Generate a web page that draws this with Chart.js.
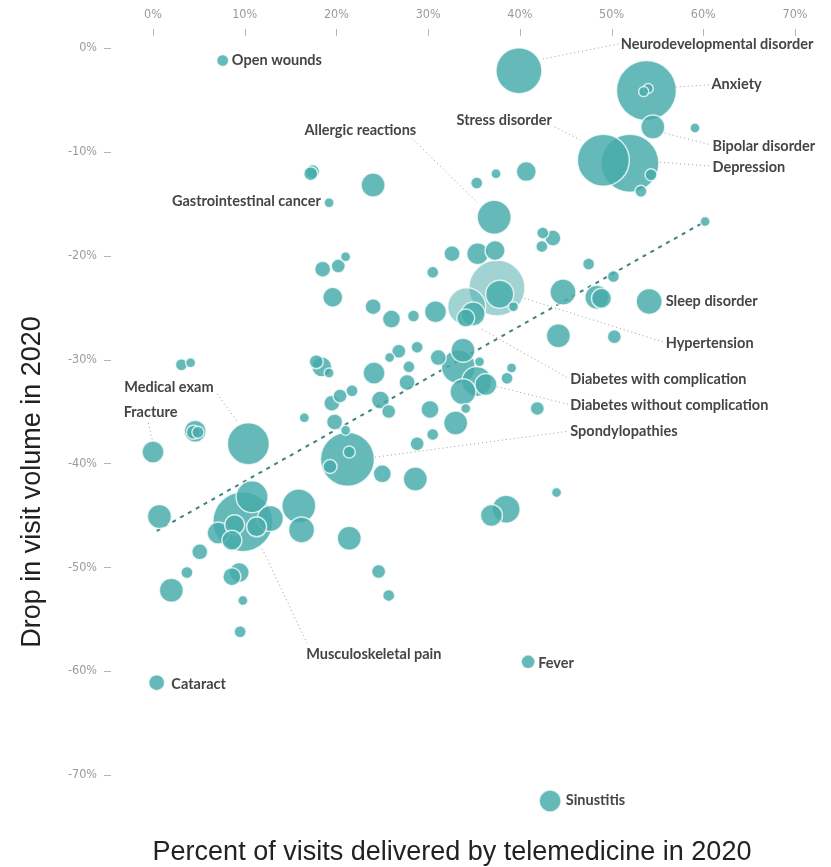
<!DOCTYPE html>
<html>
<head>
<meta charset="utf-8">
<script src="https://cdn.jsdelivr.net/npm/chart.js@4/dist/chart.umd.min.js"></script>
<style>
    body { margin: 0; background: #fff; }
    #chart-div { width: 831px; height: 867px; position: relative; }
</style>
</head>
<body>
<div id="chart-div"><canvas id="telemedicine-chart"></canvas></div>
<script>
// percent of visits by telemedicine (x), drop in visit volume (y), bubble size
const xValues = [
    7.6, 39.9, 53.8, 54.0, 53.5, 54.5, 59.1, 49.1, 52.0, 54.3, 53.2, 60.2, 40.7, 37.4, 35.3, 37.2,
    42.5, 43.6, 42.4, 32.6, 35.4, 37.3, 37.8, 39.3, 47.5, 50.2, 44.7, 48.4, 48.9, 54.1, 44.2, 50.3,
    34.9, 34.1, 30.8, 28.4, 26.0, 24.0, 19.6, 21.0, 20.2, 18.5, 30.5, 17.4, 17.2, 24.0, 19.2, 17.8,
    18.4, 19.2, 24.1, 25.8, 26.8, 28.8, 27.9, 27.7, 21.7, 20.4, 19.5, 24.8, 25.7, 16.5, 19.8, 21.0,
    30.2, 30.5, 28.8, 33.0, 34.1, 21.2, 21.4, 19.3, 25.0, 28.6, 31.1, 33.8, 33.3, 33.8, 35.3, 36.3,
    35.6, 38.6, 39.1, 41.9, 44.0, 38.5, 36.9, 40.9, 43.3, 0.4, 0.7, 9.8, 10.8, 15.9, 16.2, 21.4,
    7.1, 8.9, 8.6, 12.8, 11.3, 5.1, 3.7, 2.0, 8.6, 9.4, 9.8, 9.5, 24.6, 25.7, 0.0, 10.4, 4.6, 4.4,
    4.9, 3.1, 4.1
];
const yValues = [
    -1.2, -2.2, -4.1, -3.9, -4.2, -7.6, -7.7, -10.8, -11.1, -12.2, -13.8, -16.7, -11.9, -12.1, -13.0, -16.3,
    -17.8, -18.3, -19.1, -19.8, -19.8, -19.5, -23.7, -24.9, -20.8, -22.0, -23.5, -24.0, -24.1, -24.4, -27.7, -27.8,
    -25.6, -26.0, -25.4, -25.8, -26.1, -24.9, -24.0, -20.1, -21.0, -21.3, -21.6, -11.9, -12.1, -13.2, -14.9, -30.2,
    -30.7, -31.3, -31.3, -29.8, -29.2, -28.8, -30.7, -32.2, -33.0, -33.5, -34.2, -33.9, -35.0, -35.6, -36.0, -36.8,
    -34.8, -37.2, -38.1, -36.1, -34.7, -39.6, -38.9, -40.3, -41.0, -41.5, -29.8, -29.1, -30.7, -33.1, -32.1, -32.4,
    -30.2, -31.8, -30.8, -34.7, -42.8, -44.4, -45.0, -59.1, -72.5, -61.1, -45.1, -45.6, -43.2, -44.1, -46.4, -47.2,
    -46.7, -45.9, -47.4, -45.3, -46.1, -48.5, -50.5, -52.2, -50.9, -50.5, -53.2, -56.2, -50.4, -52.7, -38.9, -38.1, -36.9, -37.0,
    -37.0, -30.5, -30.3
];
const sizes = [
    6, 23, 30, 5, 5, 12, 5, 26, 29, 6, 6, 5, 10, 5, 6, 17,
    6, 8, 6, 8, 11, 10, 14, 5, 6, 6, 13, 12, 10, 13, 12, 7,
    12, 9, 11, 6, 9, 8, 10, 5, 7, 8, 6, 7, 7, 12, 5, 7,
    10, 5, 11, 5, 7, 6, 6, 8, 6, 7, 8, 9, 7, 5, 8, 5,
    9, 6, 7, 12, 5, 27, 6, 7, 9, 12, 8, 12, 17, 13, 15, 11,
    5, 6, 5, 7, 5, 14, 11, 7, 11, 8, 12, 30, 16, 17, 13, 12,
    11, 10, 10, 13, 10, 8, 6, 12, 9, 10, 5, 6, 7, 6, 11, 21, 11, 7,
    6, 6, 5
];

// the two paler, more transparent bubbles
const paleX = [37.5, 34.2];
const paleY = [-23.1, -24.9];
const paleSizes = [28, 19];

// dashed trend line
const trendX = [0.4, 60.2];
const trendY = [-46.5, -16.7];

const xTicks = [0, 10, 20, 30, 40, 50, 60, 70];
const yTicks = [0, -10, -20, -30, -40, -50, -60, -70];

// label text, where it sits, and an optional dotted leader (all in data units)
const callouts = [
    { text: 'Open wounds', x: 8.6, y: -1.15, align: 'left' },
    { text: 'Neurodevelopmental disorder', x: 51.0, y: 0.4, align: 'left', line: [42.5, -1.06, 50.8, 0.4] },
    { text: 'Anxiety', x: 60.9, y: -3.46, align: 'left', line: [57.0, -3.75, 60.6, -3.56] },
    { text: 'Stress disorder', x: 43.5, y: -7.0, align: 'right', line: [43.8, -7.6, 46.6, -8.85] },
    { text: 'Bipolar disorder', x: 61.0, y: -9.43, align: 'left', line: [55.8, -8.2, 60.7, -9.3] },
    { text: 'Depression', x: 61.0, y: -11.45, align: 'left', line: [55.3, -11.0, 60.7, -11.36] },
    { text: 'Allergic reactions', x: 28.7, y: -7.9, align: 'right', line: [28.2, -8.66, 35.4, -14.9] },
    { text: 'Gastrointestinal cancer', x: 18.3, y: -14.8, align: 'right' },
    { text: 'Sleep disorder', x: 55.9, y: -24.4, align: 'left' },
    { text: 'Hypertension', x: 55.9, y: -28.4, align: 'left', line: [40.5, -24.1, 55.6, -28.3] },
    { text: 'Diabetes with complication', x: 45.5, y: -31.9, align: 'left', line: [35.9, -27.1, 45.3, -31.8] },
    { text: 'Diabetes without complication', x: 45.5, y: -34.4, align: 'left', line: [37.5, -32.6, 45.3, -34.3] },
    { text: 'Spondylopathies', x: 45.5, y: -36.9, align: 'left', line: [24.2, -39.4, 45.3, -36.9] },
    { text: 'Medical exam', x: 6.6, y: -32.7, align: 'right', line: [7.0, -33.3, 9.3, -36.1] },
    { text: 'Fracture', x: -3.2, y: -35.1, align: 'left', line: [-0.5, -36.1, -0.1, -37.7] },
    { text: 'Musculoskeletal pain', x: 16.7, y: -58.4, align: 'left', line: [11.9, -48.2, 16.8, -57.3] },
    { text: 'Cataract', x: 2.0, y: -61.3, align: 'left' },
    { text: 'Fever', x: 42.0, y: -59.2, align: 'left' },
    { text: 'Sinustitis', x: 45.0, y: -72.4, align: 'left' },
];

const teal = 'rgba(72, 173, 171, 0.84)';
const paleTeal = 'rgba(92, 180, 178, 0.58)';

// big bubbles first so the small ones sit on top
const bubblePoints = xValues
    .map((x, index) => ({ x, y: yValues[index], r: sizes[index] }))
    .sort((a, b) => b.r - a.r);
const palePoints = paleX.map((x, index) => ({ x, y: paleY[index], r: paleSizes[index] }));
const trendPoints = trendX.map((x, index) => ({ x, y: trendY[index] }));

const calloutPlugin = {
    id: 'callouts',
    afterDatasetsDraw(chart) {
        const ctx = chart.ctx;
        const xScale = chart.scales.x;
        const yScale = chart.scales.y;
        const px = (value) => xScale.getPixelForValue(value);
        const py = (value) => yScale.getPixelForValue(value);

        ctx.save();

        // dotted leaders
        ctx.strokeStyle = '#9a9a9a';
        ctx.lineWidth = 1;
        ctx.setLineDash([1, 3]);
        callouts.filter((c) => c.line).forEach((c) => {
            ctx.beginPath();
            ctx.moveTo(px(c.line[0]), py(c.line[1]));
            ctx.lineTo(px(c.line[2]), py(c.line[3]));
            ctx.stroke();
        });
        ctx.setLineDash([]);

        ctx.font = "bold 14.5px Lato, 'Open Sans', sans-serif";
        ctx.fillStyle = '#454545';
        ctx.textBaseline = 'middle';
        callouts.forEach((c) => {
            ctx.textAlign = c.align;
            ctx.fillText(c.text, px(c.x), py(c.y));
        });

        // little tick marks, set away from the labels
        ctx.strokeStyle = '#b5b5b5';
        ctx.lineWidth = 1;
        xTicks.forEach((tick) => {
            const x = Math.round(px(tick)) + 0.5;
            ctx.beginPath();
            ctx.moveTo(x, 29);
            ctx.lineTo(x, 36);
            ctx.stroke();
        });
        yTicks.forEach((tick) => {
            const y = Math.round(py(tick)) + 0.5;
            ctx.beginPath();
            ctx.moveTo(104, y);
            ctx.lineTo(111, y);
            ctx.stroke();
        });

        // axis titles
        ctx.fillStyle = '#222';
        ctx.font = "27px 'Liberation Sans', Arial, sans-serif";
        ctx.textAlign = 'center';
        ctx.fillText('Percent of visits delivered by telemedicine in 2020', 452, 853);
        ctx.translate(33, 482);
        ctx.rotate(-Math.PI / 2);
        ctx.fillText('Drop in visit volume in 2020', 0, 0);

        ctx.restore();
    }
};

const tickFont = { family: "'Liberation Sans Narrow', 'DejaVu Sans Condensed', sans-serif", size: 12.5 };

const chartJSConfig = {
    type: 'bubble',
    data: {
        datasets: [
            {
                label: 'Conditions',
                data: bubblePoints,
                backgroundColor: teal,
                borderColor: 'rgba(255, 255, 255, 0.75)',
                borderWidth: 1.5,
                clip: false,
            },
            {
                label: 'Pale',
                data: palePoints,
                backgroundColor: paleTeal,
                borderColor: 'rgba(255, 255, 255, 0.75)',
                borderWidth: 1.5,
                clip: false,
            },
            {
                type: 'line',
                label: 'Trend',
                data: trendPoints,
                borderColor: '#3f8183',
                borderWidth: 2,
                borderDash: [4, 5],
                pointRadius: 0,
                fill: false,
                clip: false,
            },
        ]
    },
    options: {
        responsive: true,
        maintainAspectRatio: false,
        animation: false,
        layout: { padding: { left: 0, top: 0, right: 36, bottom: 40 } },
        plugins: {
            legend: { display: false },
            tooltip: { enabled: false },
        },
        scales: {
            x: {
                type: 'linear',
                position: 'top',
                min: 0,
                max: 70,
                grid: { display: false, drawTicks: false },
                border: { display: false },
                ticks: {
                    stepSize: 10,
                    padding: 26,
                    color: '#9a9a9a',
                    font: tickFont,
                    callback: (value) => `${value}%`,
                },
                afterFit: (scale) => {
                    scale.height = 48;
                    scale.paddingLeft = 0;
                    scale.paddingRight = 0;
                },
            },
            y: {
                type: 'linear',
                min: -75,
                max: 0,
                grid: { display: false, drawTicks: false },
                border: { display: false },
                afterBuildTicks: (scale) => {
                    scale.ticks = yTicks.map((value) => ({ value }));
                },
                ticks: {
                    padding: 56,
                    color: '#9a9a9a',
                    font: tickFont,
                    callback: (value) => `${value}%`,
                },
                afterFit: (scale) => {
                    scale.width = 153;
                    scale.paddingTop = 0;
                    scale.paddingBottom = 0;
                },
            },
        },
    },
    plugins: [calloutPlugin],
};

const ctx = document.getElementById('telemedicine-chart').getContext('2d');
window.telemedicineChart = new Chart(ctx, chartJSConfig);
</script>
</body>
</html>
